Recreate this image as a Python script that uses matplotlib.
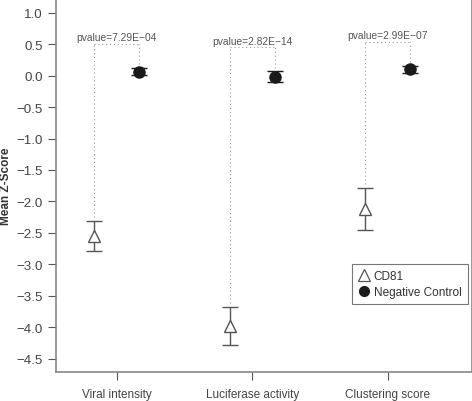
import matplotlib.pyplot as plt
from matplotlib.lines import Line2D
import numpy as np

plt.rcParams['font.family'] = ['Liberation Sans', 'DejaVu Sans']
plt.rcParams['axes.unicode_minus'] = True

categories = ['Viral intensity', 'Luciferase activity', 'Clustering score']
cd81_mean = [-2.55, -3.98, -2.12]
cd81_err = [0.235, 0.30, 0.33]
neg_mean = [0.065, -0.015, 0.10]
neg_err = [0.06, 0.085, 0.06]
pvalues = ['7.29E\u221204', '2.82E\u221214', '2.99E\u221207']

grey = '#555555'
x = np.arange(1, len(categories) + 1)
off = 0.165

fig = plt.figure(figsize=(4.72, 4.02), dpi=100)
ax = fig.add_axes([56 / 472, 1 - 372.7 / 402, (471.7 - 56) / 472, 372.7 / 402])

# dotted brackets with p-values
for i in range(len(x)):
    top = neg_mean[i] + neg_err[i] + 0.38
    xl, xr = x[i] - off, x[i] + off
    ax.plot([xl, xl], [cd81_mean[i] + cd81_err[i] + 0.06, top], ls=(0, (1, 2.5)),
            color='#999999', lw=0.8)
    ax.plot([xr, xr], [neg_mean[i] + neg_err[i] + 0.06, top], ls=(0, (1, 2.5)),
            color='#999999', lw=0.8)
    ax.plot([xl, xr], [top, top], ls=(0, (1, 2.5)), color='#999999', lw=0.8)
    ax.text(x[i], top + 0.03, 'pvalue=' + pvalues[i], ha='center', va='bottom',
            fontsize=7.4, color=grey)

ax.errorbar(x - off, cd81_mean, yerr=cd81_err, fmt='^', ms=9, mfc='white',
            mec=grey, mew=1.0, ecolor=grey, elinewidth=1.0, capsize=5.5,
            capthick=1.0)
ax.errorbar(x + off, neg_mean, yerr=neg_err, fmt='o', ms=8, mfc='#1a1a1a',
            mec='#1a1a1a', ecolor='#1a1a1a', elinewidth=1.0, capsize=5.5,
            capthick=1.0)

ax.set_xlim(0.552, 3.62)
ax.set_ylim(-4.71, 1.22)
yt = np.arange(-4.5, 1.01, 0.5)
ax.set_yticks(yt)
ax.set_yticklabels([('%.1f' % v).replace('-', '\u2212') for v in yt])
ax.set_xticks(x)
ax.set_xticklabels(categories)
ax.tick_params(colors=grey, labelcolor='#444444', labelsize=8.5, width=0.8,
               length=6)
ax.tick_params(axis='x', pad=5.5)
ax.tick_params(axis='y', labelsize=9.6)
for s in ['left', 'bottom', 'right']:
    ax.spines[s].set_color('#888888')
    ax.spines[s].set_linewidth(1.2)
ax.spines['top'].set_visible(False)

ax.set_ylabel('Mean Z-Score', fontsize=8.5, fontweight='bold', color='#333333',
              labelpad=3)

handles = [
    Line2D([], [], ls='none', marker='^', ms=8, mfc='white', mec=grey, mew=0.9),
    Line2D([], [], ls='none', marker='o', ms=7, mfc='#1a1a1a', mec='#1a1a1a'),
]
leg = ax.legend(handles, ['CD81', 'Negative Control'], loc='upper left',
                bbox_to_anchor=(351.7 / 472, 1 - 264.7 / 402),
                bbox_transform=fig.transFigure, borderaxespad=0,
                frameon=True, fancybox=False, fontsize=8.5, handletextpad=0.3,
                borderpad=0.55, labelspacing=0.3, handlelength=1.0)
leg.get_frame().set_edgecolor(grey)
leg.get_frame().set_linewidth(0.8)
for t in leg.get_texts():
    t.set_color('#333333')

fig.savefig('out.png', dpi=100)
